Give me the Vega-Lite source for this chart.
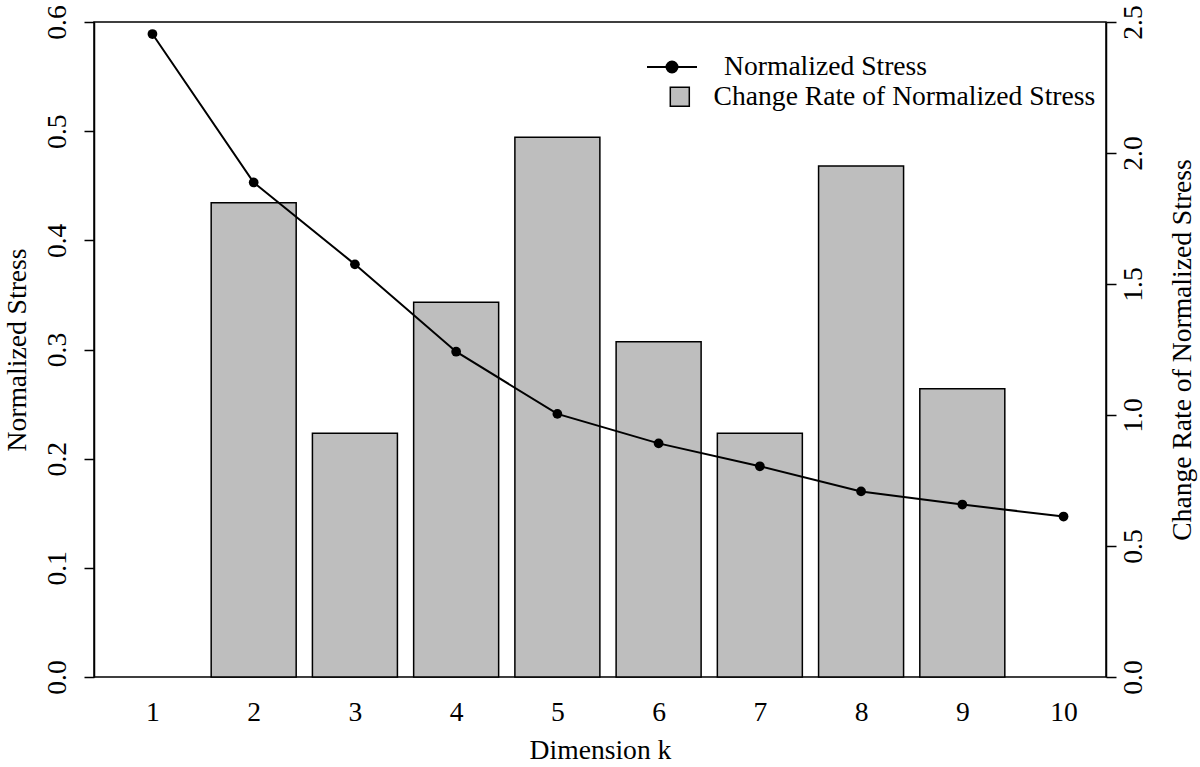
{
  "$schema": "https://vega.github.io/schema/vega-lite/v6.json",
  "width": 1012,
  "height": 655,
  "autosize": {"type": "none"},
  "padding": {"left": 94, "top": 22, "right": 94, "bottom": 90},
  "background": "white",
  "data": {
    "values": [
      {"k": 1, "stress": 0.589, "rate": null},
      {"k": 2, "stress": 0.453, "rate": 1.81},
      {"k": 3, "stress": 0.378, "rate": 0.93},
      {"k": 4, "stress": 0.298, "rate": 1.43},
      {"k": 5, "stress": 0.241, "rate": 2.06},
      {"k": 6, "stress": 0.214, "rate": 1.28},
      {"k": 7, "stress": 0.193, "rate": 0.93},
      {"k": 8, "stress": 0.170, "rate": 1.95},
      {"k": 9, "stress": 0.158, "rate": 1.10},
      {"k": 10, "stress": 0.147, "rate": null}
    ]
  },
  "encoding": {
    "x": {
      "field": "k",
      "type": "quantitative",
      "scale": {"domain": [0.472, 10.37], "nice": false, "zero": false},
      "axis": {
        "values": [1, 2, 3, 4, 5, 6, 7, 8, 9, 10],
        "domain": false,
        "ticks": false,
        "tickSize": 0,
        "labelPadding": 43,
        "labelBaseline": "alphabetic",
        "labelFlush": false,
        "labelOverlap": false,
        "title": "Dimension k",
        "titleX": 506,
        "titleY": 81,
        "titleAlign": "center",
        "titleBaseline": "alphabetic"
      }
    }
  },
  "layer": [
    {
      "mark": {"type": "bar", "width": 85, "stroke": "black", "strokeWidth": 1.5},
      "encoding": {
        "y": {
          "field": "rate",
          "type": "quantitative",
          "scale": {"domain": [0, 2.5], "nice": false},
          "axis": {
            "orient": "right",
            "values": [0, 0.5, 1, 1.5, 2, 2.5],
            "format": ".1f",
            "tickSize": 10,
            "labelAngle": -90,
            "labelAlign": "center",
            "labelBaseline": "alphabetic",
            "labelPadding": 25,
            "labelFlush": false,
            "labelOverlap": false,
            "title": "Change Rate of Normalized Stress",
            "titleAngle": -90,
            "titleX": 84,
            "titleY": 327.5,
            "titleAlign": "center",
            "titleBaseline": "alphabetic"
          }
        },
        "fill": {
          "datum": "Change Rate of Normalized Stress",
          "type": "nominal",
          "scale": {"range": ["#bebebe"]},
          "legend": {
            "title": null,
            "orient": "none",
            "legendX": 572,
            "legendY": 61,
            "padding": 0,
            "symbolType": "square",
            "symbolSize": 361,
            "symbolStrokeColor": "black",
            "symbolStrokeWidth": 1.5,
            "symbolFillColor": "#bebebe",
            "labelOffset": 20
          }
        }
      }
    },
    {
      "layer": [
        {
          "mark": {"type": "line", "strokeWidth": 2},
          "encoding": {
            "y": {
              "field": "stress",
              "type": "quantitative",
              "scale": {"domain": [0, 0.6], "nice": false},
              "axis": {
                "orient": "left",
                "values": [0, 0.1, 0.2, 0.3, 0.4, 0.5, 0.6],
                "format": ".1f",
                "tickSize": 10,
                "labelAngle": -90,
                "labelAlign": "center",
                "labelBaseline": "alphabetic",
                "labelPadding": 19,
                "labelFlush": false,
                "labelOverlap": false,
                "title": "Normalized Stress",
                "titleAngle": -90,
                "titleX": -69,
                "titleY": 327.5,
                "titleAlign": "center",
                "titleBaseline": "alphabetic"
              }
            },
            "stroke": {
              "datum": "Normalized Stress",
              "type": "nominal",
              "scale": {"range": ["black"]},
              "legend": {
                "title": null,
                "orient": "none",
                "legendX": 552,
                "legendY": 19,
                "padding": 0,
                "symbolType": "M-1,0H1M-0.22,0A0.22,0.22 0 1,0 0.22,0A0.22,0.22 0 1,0 -0.22,0Z",
                "symbolSize": 2500,
                "symbolStrokeWidth": 2,
                "labelOffset": 26,
                "encode": {
                  "symbols": {"update": {"fill": {"value": "black"}, "stroke": {"value": "black"}, "strokeWidth": {"value": 2}}}
                }
              }
            }
          }
        },
        {
          "mark": {"type": "point", "filled": true, "color": "black", "size": 95, "opacity": 1},
          "encoding": {
            "y": {"field": "stress", "type": "quantitative"}
          }
        }
      ]
    }
  ],
  "resolve": {"scale": {"y": "independent"}},
  "config": {
    "font": "Liberation Serif",
    "view": {"stroke": "black", "strokeWidth": 1.5},
    "axis": {
      "labelFont": "Liberation Serif",
      "labelFontSize": 27.6,
      "titleFont": "Liberation Serif",
      "titleFontSize": 27.6,
      "titleFontWeight": "normal",
      "labelColor": "black",
      "titleColor": "black",
      "domainColor": "black",
      "tickColor": "black",
      "domainWidth": 1.5,
      "tickWidth": 1.5,
      "grid": false
    },
    "legend": {
      "labelFont": "Liberation Serif",
      "labelFontSize": 27.6,
      "labelColor": "black",
      "labelLimit": 600
    }
  }
}
